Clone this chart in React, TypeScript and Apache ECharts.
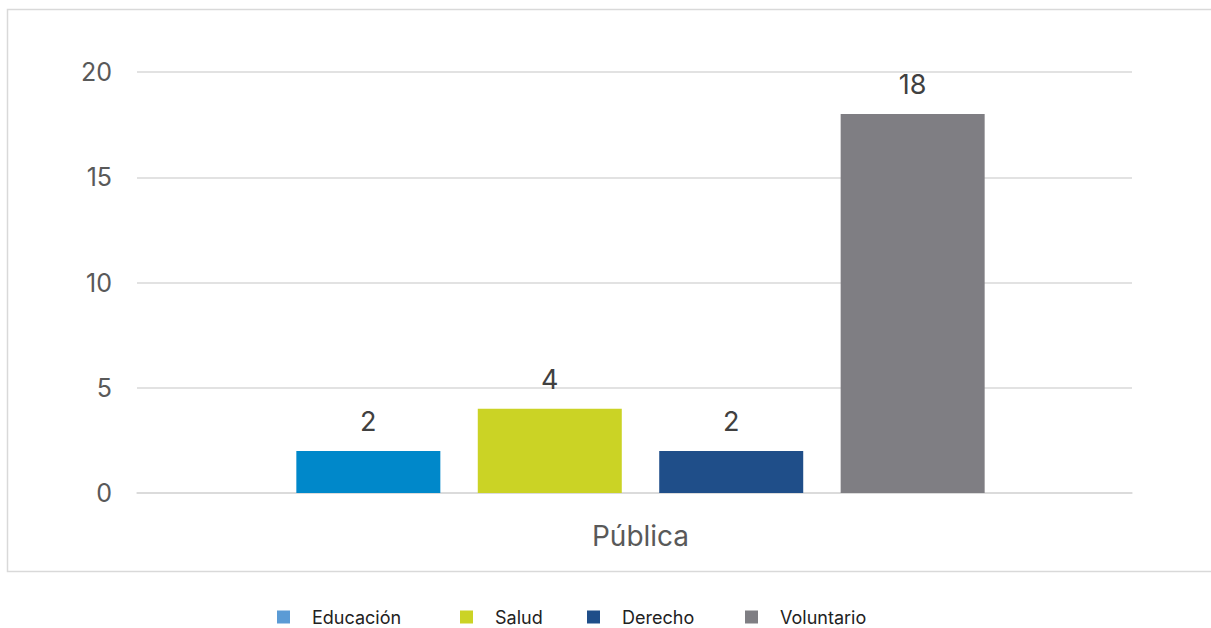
import React, { useEffect, useRef } from "react";
import * as echarts from "echarts";

const categories = ["Pública"];
const seriesNames = ["Educación", "Salud", "Derecho", "Voluntario"];
const educacion = [2];
const salud = [4];
const derecho = [2];
const voluntario = [18];
const barColors = ["#0088CA", "#CBD325", "#1F4E89", "#7F7E83"];
const legendColors = ["#5B9BD5", "#CBD325", "#1F4E89", "#7F7E83"];
const yTicks = { min: 0, max: 20, interval: 5 };

const FONT = "Inter";
const legendLefts = [277, 460, 587, 745];

export default function App() {
  const ref = useRef<HTMLDivElement>(null);
  useEffect(() => {
    if (!ref.current) return;
    const chart = echarts.init(ref.current, null, { renderer: "svg" });
    const values = [educacion, salud, derecho, voluntario];
    chart.setOption({
      animation: false,
      textStyle: { fontFamily: FONT },
      graphic: [
        {
          type: "rect",
          shape: { x: 7.5, y: 9.5, width: 1215, height: 562 },
          style: { fill: "none", stroke: "#d9d9d9", lineWidth: 1.5 },
          silent: true,
        },
      ],
      grid: [
        { left: 137, right: 79, top: 72, bottom: 135, containLabel: false },
        { left: 143, right: 73, top: 72, bottom: 135, containLabel: false },
      ],
      legend: seriesNames.map((n, i) => ({
        left: legendLefts[i],
        top: 608,
        padding: 0,
        itemWidth: 13,
        itemHeight: 13,
        icon: "rect",
        textStyle: {
          fontFamily: FONT,
          fontSize: 18,
          lineHeight: 18,
          color: "#222",
          padding: [0, 0, 0, 17],
        },
        data: [{ name: n, itemStyle: { color: legendColors[i] } }],
      })),
      xAxis: [
        {
          gridIndex: 0,
          type: "category",
          data: categories,
          axisLine: { show: true, lineStyle: { color: "#d9d9d9", width: 1.5 } },
          axisTick: { show: false },
          axisLabel: { show: false },
        },
        {
          gridIndex: 1,
          type: "category",
          data: categories,
          axisLine: { show: false },
          axisTick: { show: false },
          axisLabel: { fontFamily: FONT, fontSize: 28, color: "#595959", margin: 29 },
        },
      ],
      yAxis: [
        {
          gridIndex: 0,
          type: "value",
          min: yTicks.min,
          max: yTicks.max,
          interval: yTicks.interval,
          axisLine: { show: false },
          axisTick: { show: false },
          splitLine: { lineStyle: { color: "#d9d9d9", width: 1.5 } },
          axisLabel: { fontFamily: FONT, fontSize: 25, color: "#595959", margin: 25 },
        },
        {
          gridIndex: 1,
          type: "value",
          min: yTicks.min,
          max: yTicks.max,
          interval: yTicks.interval,
          show: false,
        },
      ],
      series: seriesNames.map((n, i) => ({
        name: n,
        type: "bar",
        xAxisIndex: 1,
        yAxisIndex: 1,
        data: values[i],
        barWidth: 144,
        barGap: "26%",
        itemStyle: { color: barColors[i] },
        label: {
          show: true,
          position: "top",
          distance: 16,
          fontFamily: FONT,
          fontSize: 27,
          color: "#404040",
        },
      })),
    });
    return () => chart.dispose();
  }, []);
  return (
    <div
      ref={ref}
      style={{ position: "absolute", left: 0, top: 0, width: 1211, height: 628 }}
    />
  );
}
